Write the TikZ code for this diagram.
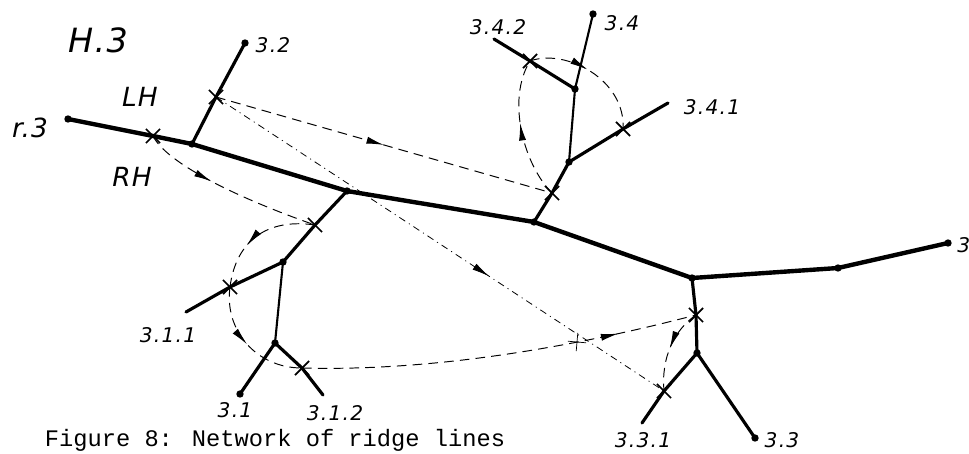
\documentclass[tikz,border=0pt]{standalone}
\usepackage{fontspec}
\setmainfont{Liberation Serif}
\newfontfamily\handfont[LetterSpace=6]{DejaVu Sans}
\newfontfamily\bighand[LetterSpace=4]{DejaVu Sans}
\newfontfamily\typefont{Liberation Mono}
\usetikzlibrary{decorations.markings}
\usetikzlibrary{arrows.meta}
\usetikzlibrary{shapes.misc}

\tikzset{
	ridge/.style={line width=2.5pt, line cap=round, line join=round},
	branch/.style={line width=1.8pt, line cap=round, line join=round},
	twig/.style={line width=1.2pt, line cap=round},
	dot/.style={circle, fill, inner sep=0pt, minimum size=4.2pt},
	xmark/.style={draw, cross out, inner sep=0pt, minimum size=7pt, line width=1pt},
	walk/.style={line width=.55pt, dash pattern=on 5.5pt off 3.5pt},
	walkdot/.style={line width=.45pt, dash pattern=on 4pt off 2.5pt on .6pt off 2.5pt},
	midarrow/.style={postaction={decorate}, decoration={markings,
		mark=at position #1 with {\arrow{Latex[length=10pt, width=4pt]}}}},
	tag/.style={font=\handfont\itshape\fontsize{11.5}{11.5}\selectfont, inner sep=1pt},
	bigtag/.style={font=\bighand\itshape\fontsize{15}{15}\selectfont, inner sep=1pt},
}

\begin{document}
\begin{tikzpicture}[x=0.02cm, y=-0.02cm]
	\useasboundingbox (0,0) rectangle (969,453);

	% main ridge
	\node[dot] (r3) at (68,119) {};
	\node[xmark] (xRH) at (153,136) {};
	\node[dot] (j32) at (192,144) {};
	\node[dot] (j31) at (347,191) {};
	\node[dot] (j34) at (534,222) {};
	\node[dot] (j33) at (692,278) {};
	\node[dot] (m3) at (838,268) {};
	\node[dot] (e3) at (948,243) {};
	% branch 3.2
	\node[xmark] (xLH) at (216,97) {};
	\node[dot] (e32) at (245,43) {};
	% branch 3.1
	\node[xmark] (x31) at (315,225) {};
	\node[dot] (j311) at (283,262) {};
	\node[dot] (j312) at (275,343) {};
	\node[dot] (e31) at (240,394) {};
	\node[xmark] (x311) at (230,287) {};
	\coordinate (e311) at (186,312);
	\node[xmark] (x312) at (302,368) {};
	\coordinate (e312) at (323,395);
	% branch 3.4
	\node[xmark] (x34) at (552,193) {};
	\node[dot] (j341) at (569,162) {};
	\node[dot] (j342) at (575,89) {};
	\node[dot] (e34) at (593,14) {};
	\node[xmark] (x341) at (623,129) {};
	\coordinate (e341) at (668,103);
	\node[xmark] (x342) at (530,61) {};
	\coordinate (e342) at (494,39);
	% branch 3.3
	\node[xmark] (x33) at (696,315) {};
	\node[dot] (j331) at (697,353) {};
	\node[dot] (e33) at (755,438) {};
	\node[xmark] (x331) at (664,391) {};
	\coordinate (e331) at (642,423);
	\node[xmark, line width=.4pt, minimum size=7pt, rotate=40] (xc) at (577,342) {};

	% walks round the network
	\draw[walk, midarrow=.5] (xLH.center) -- (x34.center);
	\draw[walkdot, midarrow=.61] (xLH.center) -- (x331.center);
	\draw[walk, midarrow=.4] (xRH.center) .. controls (166,162) and (232,196) .. (x31.center);
	\draw[walk, midarrow=.62] (x31.center) .. controls (268,218) and (236,240) .. (x311.center);
	\draw[walk, midarrow=.5] (x311.center) .. controls (224,330) and (256,368) .. (x312.center);
	\draw[walk, midarrow=.8] (x312.center) .. controls (450,372) and (600,340) .. (x33.center);
	\draw[walk, midarrow=.5] (x33.center) .. controls (674,330) and (661,358) .. (x331.center);
	\draw[walk, midarrow=.55] (x34.center) .. controls (524,165) and (506,100) .. (x342.center);
	\draw[walk, midarrow=.45] (x342.center) .. controls (566,48) and (626,80) .. (x341.center);

	% ridge lines
	\draw[ridge] (r3.center) -- (xRH.center) -- (j32.center) -- (j31.center) -- (j34.center)
		-- (j33.center) -- (m3.center) -- (e3.center);
	\draw[branch] (j32.center) -- (xLH.center) -- (e32.center);
	\draw[branch] (j31.center) -- (x31.center) -- (j311.center);
	\draw[twig] (j311.center) -- (j312.center);
	\draw[branch] (j312.center) -- (e31.center);
	\draw[branch] (j311.center) -- (x311.center) -- (e311);
	\draw[branch] (j312.center) -- (x312.center) -- (e312);
	\draw[branch] (j34.center) -- (x34.center) -- (j341.center);
	\draw[twig] (j341.center) -- (j342.center) -- (e34.center);
	\draw[branch] (j341.center) -- (x341.center) -- (e341);
	\draw[branch] (j342.center) -- (x342.center) -- (e342);
	\draw[branch] (j33.center) -- (x33.center) -- (j331.center) -- (e33.center);
	\draw[branch] (j331.center) -- (x331.center) -- (e331);

	% labels
	\node[bigtag, font=\bighand\itshape\fontsize{19}{19}\selectfont] (lH3) at (98,40) {H.3};
	\node[bigtag] (lr3) at (30,128) {r.3};
	\node[bigtag] (lLH) at (140,97) {LH};
	\node[bigtag] (lRH) at (132,177) {RH};
	\node[tag] (l32) at (273,45) {3.2};
	\node[tag] (l34) at (622,23) {3.4};
	\node[tag] (l342) at (498,27) {3.4.2};
	\node[tag] (l341) at (712,107) {3.4.1};
	\node[tag] (l311) at (168,335) {3.1.1};
	\node[tag] (l31) at (235,410) {3.1};
	\node[tag] (l312) at (335,413) {3.1.2};
	\node[tag] (l331) at (643,440) {3.3.1};
	\node[tag] (l33) at (782,440) {3.3};
	\node[tag, anchor=west, inner sep=0pt] (l3) at (957,245) {3};
	\node[font=\typefont\fontsize{13.5}{13.5}\selectfont] (caption) at (275,440) {Figure 8: Network of ridge lines};
\end{tikzpicture}
\end{document}
